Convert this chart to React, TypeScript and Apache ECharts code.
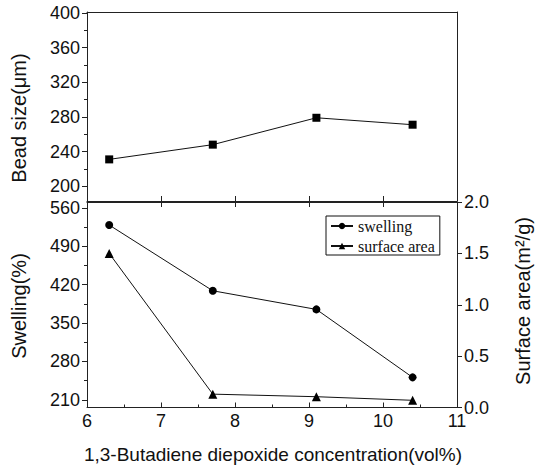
import React, { useEffect, useRef } from "react";
import * as echarts from "echarts";

const concentration = [6.3, 7.7, 9.1, 10.4];
const beadSize = [231, 248, 279, 271];
const swelling = [529, 409, 375, 251];
const surfaceArea = [1.5, 0.13, 0.105, 0.07];

const beadTicks = [200, 240, 280, 320, 360, 400];
const beadMinorTicks = [220, 260, 300, 340, 380];
const swellTicks = [210, 280, 350, 420, 490, 560];
const swellMinorTicks = [245, 315, 385, 455, 525];
const areaTicks = [0, 0.5, 1.0, 1.5, 2.0];
const xTicks = [6, 7, 8, 9, 10, 11];

const AXIS = "#222";
const SANS = "'Liberation Sans', Arial, sans-serif";
const SERIF = "'Liberation Serif', 'Times New Roman', serif";

export default function App() {
  const ref = useRef<HTMLDivElement>(null);
  useEffect(() => {
    if (!ref.current) return;
    const chart = echarts.init(ref.current, undefined, { renderer: "svg" });
    const lineStyle = { color: AXIS, width: 1 };
    const xBase = { type: "value", min: 6, max: 11, interval: 1 };
    const option: any = {
      animation: false,
      backgroundColor: "#fff",
      grid: [
        { left: 87, right: 79, top: 12, height: 189 },
        { left: 87, right: 79, top: 202, height: 205.5 },
      ],
      xAxis: [
        { ...xBase, gridIndex: 0, position: "bottom", axisLine: { lineStyle }, axisTick: { inside: true, length: 5, lineStyle }, axisLabel: { show: false }, splitLine: { show: false } },
        { ...xBase, gridIndex: 0, position: "top", axisLine: { lineStyle }, axisTick: { show: false }, axisLabel: { show: false }, splitLine: { show: false } },
        { ...xBase, gridIndex: 1, position: "bottom", axisLine: { lineStyle }, axisTick: { inside: true, length: 5, lineStyle }, minorTick: { show: true, splitNumber: 2, length: 3, lineStyle }, axisLabel: { color: "#111", fontSize: 18, fontFamily: SANS, margin: 4, customValues: xTicks }, splitLine: { show: false } },
        { ...xBase, gridIndex: 1, position: "top", axisLine: { lineStyle }, axisTick: { inside: true, length: 5, lineStyle }, axisLabel: { show: false }, splitLine: { show: false } },
      ],
      yAxis: [
        { type: "value", gridIndex: 0, position: "left", min: 183, max: 401, axisLine: { show: true, lineStyle }, axisTick: { show: true, length: 5, lineStyle, customValues: beadTicks }, axisLabel: { color: "#111", fontSize: 18, fontFamily: SANS, margin: 7, customValues: beadTicks }, splitLine: { show: false } },
        { type: "value", gridIndex: 0, position: "right", min: 183, max: 401, axisLine: { show: true, lineStyle }, axisTick: { show: false }, axisLabel: { show: false }, splitLine: { show: false } },
        { type: "value", gridIndex: 0, position: "left", min: 183, max: 401, axisLine: { show: false }, axisTick: { show: true, length: 3, lineStyle, customValues: beadMinorTicks }, axisLabel: { show: false }, splitLine: { show: false } },
        { type: "value", gridIndex: 1, position: "left", min: 196, max: 571, axisLine: { show: true, lineStyle }, axisTick: { show: true, length: 5, lineStyle, customValues: swellTicks }, axisLabel: { color: "#111", fontSize: 18, fontFamily: SANS, margin: 7, customValues: swellTicks }, splitLine: { show: false } },
        { type: "value", gridIndex: 1, position: "right", min: 0, max: 2, axisLine: { show: true, lineStyle }, axisTick: { show: true, length: 5, lineStyle, customValues: areaTicks }, axisLabel: { color: "#111", fontSize: 18, fontFamily: SANS, margin: 7, customValues: areaTicks, formatter: (v: number) => v.toFixed(1) }, splitLine: { show: false } },
        { type: "value", gridIndex: 1, position: "left", min: 196, max: 571, axisLine: { show: false }, axisTick: { show: true, length: 3, lineStyle, customValues: swellMinorTicks }, axisLabel: { show: false }, splitLine: { show: false } },
      ],
      legend: {
        left: 326,
        top: 216,
        orient: "vertical",
        data: ["swelling", "surface area"],
        backgroundColor: "#fff",
        borderColor: "#111",
        borderWidth: 1,
        borderRadius: 0,
        padding: [2, 5, 1, 4],
        itemGap: 4,
        itemWidth: 22,
        itemHeight: 8,
        textStyle: { fontFamily: SERIF, fontSize: 16, color: "#111" },
      },
      series: [
        {
          name: "bead size",
          type: "line",
          xAxisIndex: 0,
          yAxisIndex: 0,
          data: concentration.map((x, i) => [x, beadSize[i]]),
          symbol: "rect",
          symbolSize: 8,
          lineStyle: { color: "#111", width: 1 },
          itemStyle: { color: "#000" },
        },
        {
          name: "swelling",
          type: "line",
          xAxisIndex: 2,
          yAxisIndex: 3,
          data: concentration.map((x, i) => [x, swelling[i]]),
          symbol: "circle",
          symbolSize: 8,
          lineStyle: { color: "#111", width: 1 },
          itemStyle: { color: "#000" },
        },
        {
          name: "surface area",
          type: "line",
          xAxisIndex: 2,
          yAxisIndex: 4,
          data: concentration.map((x, i) => [x, surfaceArea[i]]),
          symbol: "triangle",
          symbolSize: 9,
          lineStyle: { color: "#111", width: 1 },
          itemStyle: { color: "#000" },
        },
      ],
      graphic: [
        { type: "text", x: 19, y: 118, rotation: Math.PI / 2, style: { text: "Bead size(μm)", fontSize: 20, fontFamily: SANS, fill: "#111", align: "center", verticalAlign: "middle" } },
        { type: "text", x: 19, y: 306, rotation: Math.PI / 2, style: { text: "Swelling(%)", fontSize: 20, fontFamily: SANS, fill: "#111", align: "center", verticalAlign: "middle" } },
        { type: "text", x: 523, y: 301, rotation: Math.PI / 2, style: { text: "Surface area(m²/g)", fontSize: 20, fontFamily: SANS, fill: "#111", align: "center", verticalAlign: "middle" } },
        { type: "text", x: 273, y: 454, style: { text: "1,3-Butadiene diepoxide concentration(vol%)", fontSize: 19, fontFamily: SANS, fill: "#111", align: "center", verticalAlign: "middle" } },
      ],
    };
    chart.setOption(option);
    return () => chart.dispose();
  }, []);
  return <div ref={ref} style={{ position: "fixed", left: 0, top: 0, width: 536, height: 472 }} />;
}
